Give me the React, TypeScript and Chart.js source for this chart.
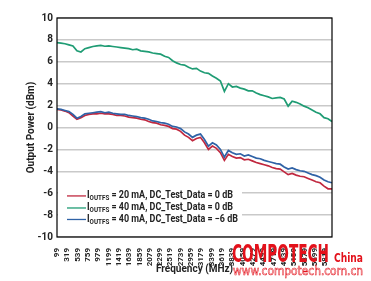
import React, { useEffect, useRef } from 'react';
import { Chart, registerables } from 'chart.js';

Chart.register(...registerables);

// Frequency samples (MHz)
const FREQ_MHZ = [
  99, 184, 269, 354, 439, 524, 609, 694, 779, 864,
  949, 1034, 1119, 1204, 1289, 1374, 1459, 1544, 1629, 1714,
  1799, 1884, 1969, 2054, 2139, 2224, 2309, 2394, 2479, 2564,
  2649, 2734, 2819, 2904, 2989, 3074, 3159, 3244, 3329, 3414,
  3499, 3584, 3669, 3754, 3839, 3924, 4009, 4094, 4179, 4264,
  4349, 4434, 4519, 4604, 4689, 4774, 4859, 4944, 5029, 5114,
  5199, 5284, 5369, 5454, 5539, 5624, 5709, 5794, 5879, 5964,
];

// IOUTFS = 20 mA, DC_Test_Data = 0 dB (dBm)
const RED_20MA_0DB = [
  1.65, 1.6, 1.5, 1.35, 1.05, 0.75, 0.9, 1.1, 1.2, 1.25,
  1.25, 1.3, 1.25, 1.25, 1.2, 1.1, 1.1, 1.05, 0.95, 0.9,
  0.85, 0.75, 0.7, 0.55, 0.45, 0.4, 0.25, 0.2, 0.1, -0.1,
  -0.15, -0.35, -0.7, -0.9, -1.2, -1.0, -0.9, -1.4, -2.0, -1.7,
  -1.9, -2.3, -3.0, -2.45, -2.65, -2.8, -2.75, -2.95, -2.9, -3.05,
  -3.2, -3.3, -3.4, -3.5, -3.65, -3.75, -3.8, -4.05, -4.3, -4.2,
  -4.35, -4.45, -4.5, -4.65, -4.8, -4.95, -5.05, -5.35, -5.6, -5.6,
];

// IOUTFS = 40 mA, DC_Test_Data = 0 dB (dBm)
const GREEN_40MA_0DB = [
  7.75, 7.7, 7.65, 7.55, 7.45, 7.0, 6.9, 7.2, 7.3, 7.4,
  7.45, 7.5, 7.42, 7.45, 7.4, 7.35, 7.3, 7.25, 7.2, 7.1,
  7.15, 7.0, 6.95, 6.9, 6.8, 6.75, 6.7, 6.5, 6.4, 6.1,
  5.9, 5.75, 5.7, 5.5, 5.35, 5.4, 5.15, 5.0, 4.95, 4.7,
  4.5, 4.25, 3.3, 4.0, 3.7, 3.75, 3.6, 3.5, 3.35, 3.35,
  3.15, 3.0, 2.9, 2.8, 2.65, 2.7, 2.75, 2.6, 1.95, 2.4,
  2.3, 2.15, 1.95, 1.8, 1.6, 1.4, 1.25, 0.9, 0.8, 0.55,
];

// IOUTFS = 40 mA, DC_Test_Data = -6 dB (dBm)
const BLUE_40MA_M6DB = [
  1.7, 1.65, 1.55, 1.45, 1.2, 0.85, 1.0, 1.25, 1.3, 1.35,
  1.4, 1.45, 1.35, 1.4, 1.3, 1.25, 1.2, 1.2, 1.1, 1.05,
  1.0, 0.9, 0.85, 0.75, 0.6, 0.55, 0.45, 0.4, 0.3, 0.1,
  0.05, -0.1, -0.4, -0.6, -0.9, -0.7, -0.6, -1.1, -1.7, -1.4,
  -1.6, -2.0, -2.7, -2.1, -2.3, -2.45, -2.4, -2.6, -2.5, -2.65,
  -2.8, -2.85, -3.0, -3.1, -3.2, -3.3, -3.35, -3.6, -3.8, -3.7,
  -3.85, -3.95, -4.0, -4.15, -4.3, -4.4, -4.55, -4.8, -4.95, -5.05,
];

const X_TICKS = [
  99, 319, 539, 759, 979, 1199, 1419, 1639, 1859, 2079, 2299, 2519, 2739, 2959,
  3179, 3399, 3619, 3839, 4059, 4279, 4499, 4719, 4939, 5159, 5379, 5599, 5819,
];
const Y_MIN = -10;
const Y_MAX = 10;
const Y_STEP = 2;

const RED = '#c0283f';
const GREEN = '#1f9c74';
const BLUE = '#2f62a6';

const LEGEND_ITEMS = [
  { main: 'I', sub: 'OUTFS', rest: ' = 20 mA, DC_Test_Data = 0 dB', color: RED },
  { main: 'I', sub: 'OUTFS', rest: ' = 40 mA, DC_Test_Data = 0 dB', color: GREEN },
  { main: 'I', sub: 'OUTFS', rest: ' = 40 mA, DC_Test_Data = \u22126 dB', color: BLUE },
];

const FONT = '"Liberation Sans Narrow", "Arial Narrow", Roboto, "Liberation Sans", sans-serif';
const TEXT = '#222222';

function richWidth(ctx: CanvasRenderingContext2D, it: { main: string; sub: string; rest: string }) {
  ctx.font = `bold 10px ${FONT}`;
  let w = ctx.measureText(it.main).width;
  ctx.font = `bold 7px ${FONT}`;
  w += ctx.measureText(it.sub).width;
  ctx.font = `bold 10px ${FONT}`;
  w += ctx.measureText(it.rest).width;
  return w;
}

function drawRich(ctx: CanvasRenderingContext2D, it: { main: string; sub: string; rest: string }, x: number, y: number, sx: number) {
  ctx.save();
  ctx.translate(x, y);
  ctx.scale(sx, 1);
  ctx.textBaseline = 'middle';
  ctx.textAlign = 'left';
  ctx.fillStyle = TEXT;
  ctx.font = `bold 10px ${FONT}`;
  ctx.fillText(it.main, 0, 0);
  let w = ctx.measureText(it.main).width;
  ctx.font = `bold 7px ${FONT}`;
  ctx.fillText(it.sub, w, 2.5);
  w += ctx.measureText(it.sub).width;
  ctx.font = `bold 10px ${FONT}`;
  ctx.fillText(it.rest, w, 0);
  ctx.restore();
}

function fitText(ctx: CanvasRenderingContext2D, text: string, x: number, y: number, width: number, font: string, stroke = false) {
  ctx.save();
  ctx.font = font;
  const m = ctx.measureText(text).width;
  ctx.translate(x, y);
  ctx.scale(width / m, 1);
  ctx.textAlign = 'left';
  ctx.textBaseline = 'alphabetic';
  if (stroke) ctx.strokeText(text, 0, 0);
  else ctx.fillText(text, 0, 0);
  ctx.restore();
}

const overlayPlugin = {
  id: 'overlay',
  afterDraw(chart: any) {
    const { ctx, chartArea } = chart;
    const { left, right, top, bottom } = chartArea;
    const ys = chart.scales.y;

    // legend box
    ctx.save();
    ctx.fillStyle = '#ffffff';
    ctx.fillRect(left + 1, ys.getPixelForValue(-5.2), 184, ys.getPixelForValue(-9.1) - ys.getPixelForValue(-5.2));
    const rowY = [ys.getPixelForValue(-6.25), ys.getPixelForValue(-7.35), ys.getPixelForValue(-8.4)];
    const w0 = richWidth(ctx, LEGEND_ITEMS[0]);
    const sx = 146 / w0;
    LEGEND_ITEMS.forEach((it, i) => {
      ctx.strokeStyle = it.color;
      ctx.lineWidth = 1.3;
      ctx.beginPath();
      ctx.moveTo(left + 10, rowY[i]);
      ctx.lineTo(left + 29, rowY[i]);
      ctx.stroke();
      drawRich(ctx, it, left + 30, rowY[i], sx);
    });
    ctx.restore();

    // frame
    ctx.save();
    ctx.strokeStyle = '#000000';
    ctx.lineWidth = 1.2;
    ctx.strokeRect(left, top, right - left, bottom - top);
    ctx.restore();

    // watermark
    ctx.save();
    ctx.fillStyle = '#e3111b';
    ctx.strokeStyle = '#e3111b';
    fitText(ctx, 'COMPOTECH', 232, 262, 97, 'bold 24px "DejaVu Sans"');
    fitText(ctx, 'China', 334, 262, 29, 'bold 13px "DejaVu Sans"');
    ctx.lineWidth = 0.6;
    fitText(ctx, 'www.compotech.com.cn', 233, 275, 130, '13px "DejaVu Sans"', true);
    ctx.restore();
  },
};

export default function App() {
  const ref = useRef<HTMLCanvasElement | null>(null);

  useEffect(() => {
    if (!ref.current) return;
    const mk = (data: number[]) => FREQ_MHZ.map((f, i) => ({ x: f, y: data[i] }));
    const chart = new Chart(ref.current, {
      type: 'line',
      data: {
        datasets: [
          { label: 'IOUTFS = 20 mA, DC_Test_Data = 0 dB', data: mk(RED_20MA_0DB), borderColor: RED, borderWidth: 1.7, pointRadius: 0, order: 3 },
          { label: 'IOUTFS = 40 mA, DC_Test_Data = 0 dB', data: mk(GREEN_40MA_0DB), borderColor: GREEN, borderWidth: 1.7, pointRadius: 0, order: 2 },
          { label: 'IOUTFS = 40 mA, DC_Test_Data = -6 dB', data: mk(BLUE_40MA_M6DB), borderColor: BLUE, borderWidth: 1.7, pointRadius: 0, order: 1 },
        ],
      },
      options: {
        responsive: false,
        animation: false,
        devicePixelRatio: 1,
        layout: { padding: { top: 18, right: 39, left: 0, bottom: 0 } },
        plugins: { legend: { display: false }, tooltip: { enabled: false } },
        scales: {
          x: {
            type: 'linear',
            min: FREQ_MHZ[0],
            max: FREQ_MHZ[FREQ_MHZ.length - 1],
            afterBuildTicks: (scale: any) => {
              scale.ticks = X_TICKS.map((v) => ({ value: v }));
            },
            afterFit: (scale: any) => {
              scale.height = 44;
            },
            grid: { display: false },
            border: { display: false },
            ticks: {
              autoSkip: false,
              minRotation: 90,
              maxRotation: 90,
              padding: 3,
              color: TEXT,
              font: { family: FONT, size: 8, weight: 'bold' },
              callback: (v: any) => String(v),
            },
            title: {
              display: true,
              text: 'Frequency (MHz)',
              color: TEXT,
              font: { family: FONT, size: 10, weight: 'bold' },
              padding: { top: 0, bottom: 6 },
            },
          },
          y: {
            min: Y_MIN,
            max: Y_MAX,
            afterFit: (scale: any) => {
              scale.width = 57;
            },
            grid: { color: '#c9c9c9', lineWidth: 1.5, drawTicks: false },
            border: { display: false },
            ticks: {
              stepSize: Y_STEP,
              padding: 4,
              color: TEXT,
              font: { family: FONT, size: 10, weight: 'bold' },
            },
            title: {
              display: true,
              text: 'Output Power (dBm)',
              color: TEXT,
              font: { family: FONT, size: 10, weight: 'bold' },
              padding: { top: 25, bottom: 0 },
            },
          },
        },
      },
      plugins: [overlayPlugin],
    } as any);
    return () => chart.destroy();
  }, []);

  return (
    <div style={{ position: 'absolute', left: 0, top: 0, width: 371, height: 281, background: '#fff' }}>
      <canvas ref={ref} width={371} height={281} style={{ display: 'block' }} />
    </div>
  );
}
